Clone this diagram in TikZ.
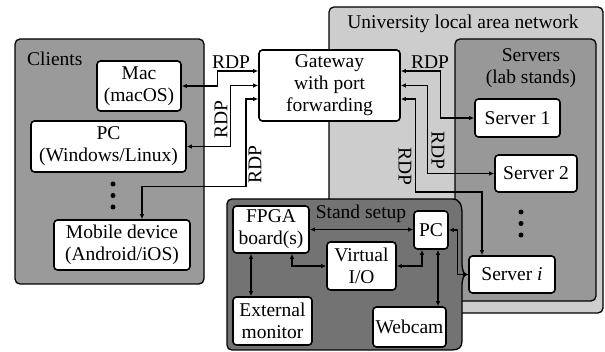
\documentclass[tikz,border=0pt]{standalone}
\usepackage{fontspec}
\setmainfont{Liberation Serif}
\usetikzlibrary{arrows.meta}
\definecolor{clientgray}{RGB}{154,154,154}
\definecolor{langray}{RGB}{205,205,205}
\definecolor{servgray}{RGB}{152,152,152}
\definecolor{standgray}{RGB}{115,115,115}
\tikzset{
  grp/.style={draw=black, line width=1.3pt, rounded corners=5pt},
  box/.style={draw=black, fill=white, line width=1.6pt, rounded corners=3.5pt, inner sep=0pt, align=center, font=\fontsize{19.5}{22}\selectfont},
  lbl/.style={inner sep=0pt, font=\fontsize{19.5}{22}\selectfont, align=center},
  conn/.style={line width=1.1pt, {Latex[length=5pt,width=4.5pt]}-{Latex[length=5pt,width=4.5pt]}},
  dotmark/.style={circle, fill=black, inner sep=0pt, minimum size=5pt}
}
\begin{document}
\begin{tikzpicture}[x=1pt,y=-1pt]
\useasboundingbox (0,0) rectangle (605,352);
% group boxes
\draw[grp, fill=langray] (329,7) rectangle (603,313);
\node[lbl] (lanlbl) at (463,24) {University local area network};
\draw[grp, fill=servgray] (455,39) rectangle (596,301);
\node[lbl] (servlbl) at (531,68) {Servers\\(lab stands)};
\draw[grp, fill=clientgray] (15,39) rectangle (204,284);
\node[lbl, anchor=west] (clilbl) at (27,59) {Clients};
% stand setup box with brace-like right edge
\path[draw=black, line width=1.3pt, fill=standgray]
  (232,199) -- (452,199) .. controls (460,199) and (462,205) .. (462,214)
  -- (462,262) .. controls (462,270) and (463.5,274) .. (466.5,274.5)
  .. controls (463.5,275) and (462,279) .. (462,287)
  -- (462,341) .. controls (462,347) and (459,350) .. (452,350)
  -- (232,350) .. controls (229,350) and (227,348) .. (227,345)
  -- (227,204) .. controls (227,201) and (229,199) .. (232,199) -- cycle;
\node[lbl] (standlbl) at (361,214) {Stand setup};
% client nodes
\node[box, minimum width=84pt, minimum height=50pt] (mac) at (139,86) {Mac\\(macOS)};
\node[box, minimum width=155pt, minimum height=51pt] (pcc) at (108.5,146.5) {PC\\(Windows/Linux)};
\node[box, minimum width=136pt, minimum height=50pt] (mob) at (122,245) {Mobile device\\(Android/iOS)};
\node[dotmark] (cd1) at (113,184) {};
\node[dotmark] (cd2) at (113,195.5) {};
\node[dotmark] (cd3) at (113,207) {};
% gateway
\node[box, minimum width=141pt, minimum height=71pt] (gw) at (329.5,85.5) {Gateway\\with port\\forwarding};
% servers
\node[box, minimum width=85pt, minimum height=38pt] (s1) at (517.5,118) {Server 1};
\node[box, minimum width=82pt, minimum height=37pt] (s2) at (536,173.5) {Server 2};
\node[box, minimum width=86pt, minimum height=37pt] (si) at (512,274.5) {Server \textit{i}};
\node[dotmark] (sd1) at (521,212) {};
\node[dotmark] (sd2) at (521,223.5) {};
\node[dotmark] (sd3) at (521,235) {};
% stand nodes
\node[box, minimum width=76pt, minimum height=47pt] (fpga) at (271,229.5) {FPGA\\board(s)};
\node[box, minimum width=69pt, minimum height=48pt] (vio) at (361.5,266) {Virtual\\I/O};
\node[box, minimum width=79pt, minimum height=48pt] (mon) at (272.5,321) {External\\monitor};
\node[box, minimum width=73pt, minimum height=40pt] (cam) at (409.5,327) {Webcam};
\node[box, minimum width=34pt, minimum height=38pt] (spc) at (431,230) {PC};
% client connectors
\draw[conn] (mac.east) -- ++(36,0) |- ([yshift=14.5pt]gw.west);
\node[lbl] (rdp1) at (231,62) {RDP};
\draw[conn] (pcc.east) -- ++(44,0) |- (gw.west);
\node[lbl, rotate=90] (rdp2) at (221,120) {RDP};
\draw[conn] ([xshift=20pt]mob.north) -- ++(0,-33) -- ++(104,0) |- ([yshift=-13.5pt]gw.west);
\node[lbl, rotate=90] (rdp3) at (255,165) {RDP};
% server connectors
\draw[conn] ([yshift=14.5pt]gw.east) -- ++(40,0) |- (s1.west);
\node[lbl] (rdp4) at (430,62) {RDP};
\draw[conn] (gw.east) -- ++(27,0) |- (s2.west);
\node[lbl, rotate=-90] (rdp5) at (438,150) {RDP};
\draw[conn] ([yshift=-13.5pt]gw.east) -- ++(15,0) -- ++(0,93) -| ([xshift=-30pt]si.north);
\node[lbl, rotate=-90] (rdp6) at (405,166) {RDP};
\draw[conn] (spc.east) -- ++(9,0) |- (si.west);
% stand connectors
\draw[conn] (fpga.east) -- (fpga.east -| spc.west);
\draw[conn] ([xshift=21pt]fpga.south) |- (vio.west);
\draw[conn] (vio.east) -| ([xshift=-9pt]spc.south);
\draw[conn] ([xshift=-20pt]fpga.south) -- ([xshift=-20pt]fpga.south |- mon.north);
\draw[conn] ([xshift=7pt]spc.south) -- ([xshift=7pt]spc.south |- cam.north);
\end{tikzpicture}
\end{document}
